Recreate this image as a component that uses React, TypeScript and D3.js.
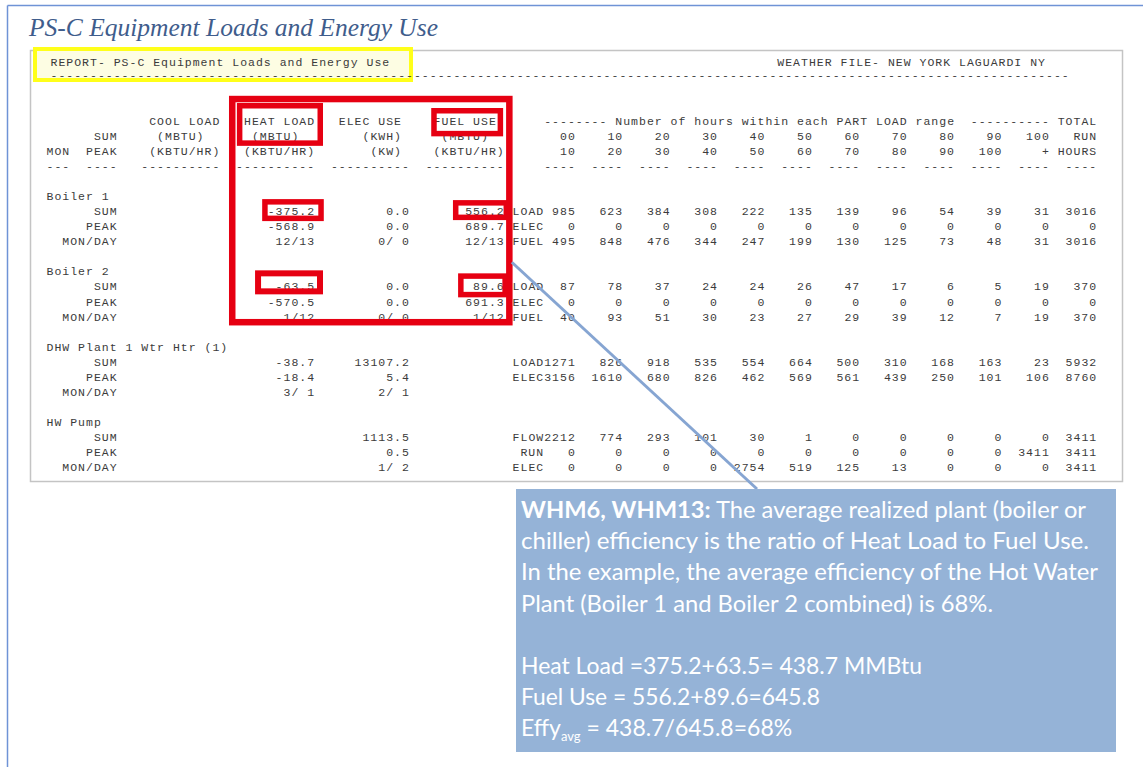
import React from "react";
import * as d3 from "d3";

// ---------------- data ----------------
const slideTitle = "PS-C Equipment Loads and Energy Use";
const reportName = "REPORT- PS-C Equipment Loads and Energy Use";
const weatherLine = "WEATHER FILE- NEW YORK LAGUARDI NY";

const columnTitles = ["COOL LOAD", "HEAT LOAD", "ELEC USE", "FUEL USE"];
const columnUnitsSum = ["(MBTU)", "(MBTU)", "(KWH)", "(MBTU)"];
const columnUnitsPeak = ["(KBTU/HR)", "(KBTU/HR)", "(KW)", "(KBTU/HR)"];
const partLoadHeading = "Number of hours within each PART LOAD range";
const binLow = ["00", "10", "20", "30", "40", "50", "60", "70", "80", "90", "100"];
const binHigh = ["10", "20", "30", "40", "50", "60", "70", "80", "90", "100", "+"];
const statLabels = ["SUM", "PEAK", "MON/DAY"];

const equipment = ["Boiler 1", "Boiler 2", "DHW Plant 1 Wtr Htr (1)", "HW Pump"];
const heatLoad = [
  ["-375.2", "-568.9", "12/13"],
  ["-63.5", "-570.5", "1/12"],
  ["-38.7", "-18.4", "3/ 1"],
  ["", "", ""],
];
const elecUse = [
  ["0.0", "0.0", "0/ 0"],
  ["0.0", "0.0", "0/ 0"],
  ["13107.2", "5.4", "2/ 1"],
  ["1113.5", "0.5", "1/ 2"],
];
const fuelUse = [
  ["556.2", "689.7", "12/13"],
  ["89.6", "691.3", "1/12"],
  ["", "", ""],
  ["", "", ""],
];
const hourRowLabels = [
  ["LOAD", "ELEC", "FUEL"],
  ["LOAD", "ELEC", "FUEL"],
  ["LOAD", "ELEC", ""],
  ["FLOW", "RUN", "ELEC"],
];
const boiler1Hours = [
  [985, 623, 384, 308, 222, 135, 139, 96, 54, 39, 31],
  [0, 0, 0, 0, 0, 0, 0, 0, 0, 0, 0],
  [495, 848, 476, 344, 247, 199, 130, 125, 73, 48, 31],
];
const boiler2Hours = [
  [87, 78, 37, 24, 24, 26, 47, 17, 6, 5, 19],
  [0, 0, 0, 0, 0, 0, 0, 0, 0, 0, 0],
  [40, 93, 51, 30, 23, 27, 29, 39, 12, 7, 19],
];
const dhwHours = [
  [1271, 826, 918, 535, 554, 664, 500, 310, 168, 163, 23],
  [3156, 1610, 680, 826, 462, 569, 561, 439, 250, 101, 106],
  [],
];
const hwPumpHours = [
  [2212, 774, 293, 101, 30, 1, 0, 0, 0, 0, 0],
  [0, 0, 0, 0, 0, 0, 0, 0, 0, 0, 3411],
  [0, 0, 0, 0, 2754, 519, 125, 13, 0, 0, 0],
];
const boiler1Totals = [3016, 0, 3016];
const boiler2Totals = [370, 0, 370];
const dhwTotals = [5932, 8760, null];
const hwPumpTotals = [3411, 3411, 3411];

const calloutBold = "WHM6, WHM13:";
const calloutText = [
  " The average realized plant (boiler or",
  "chiller) efficiency is the ratio of Heat Load to Fuel Use.",
  "In the example, the average efficiency of the Hot Water",
  "Plant (Boiler 1 and Boiler 2 combined) is 68%.",
];
const calcLines = ["Heat Load =375.2+63.5= 438.7 MMBtu", "Fuel Use = 556.2+89.6=645.8"];
const effyParts = ["Effy", "avg", " = 438.7/645.8=68%"];

// ---------------- layout ----------------
const W = 1143;
const H = 767;
const CW = 7.9;
const colX = d3.scaleLinear().domain([0, 1]).range([46.5, 46.5 + CW]);
const rowY = d3.scaleLinear().domain([0, 1]).range([120.8, 135.85]);
const repX = d3.scaleLinear().domain([0, 1]).range([50.5, 50.5 + CW]);

const MONO = "'Liberation Mono', 'DejaVu Sans Mono', monospace";
const TXT = "#3b3b3b";
const RED = "#e60012";

const hoursAll = [boiler1Hours, boiler2Hours, dhwHours, hwPumpHours];
const totalsAll = [boiler1Totals, boiler2Totals, dhwTotals, hwPumpTotals];

// callout line right edges (layout)
const proseEnds = [1086, 1089, 1098, 993];
const calcEnds = [922, 820];

function Mono({ x, y, anchor = "start", children }: any) {
  return (
    <text
      x={x}
      y={y}
      dy="0.36em"
      textAnchor={anchor}
      fontFamily={MONO}
      fontSize={11.5}
      letterSpacing={1.0}
      fill={TXT}
      style={{ whiteSpace: "pre" }}
    >
      {children}
    </text>
  );
}

function outerRect(x0: number, x1: number, y0: number, y1: number, sw: number, key: string) {
  return (
    <rect
      key={key}
      x={x0 + sw / 2}
      y={y0 + sw / 2}
      width={x1 - x0 - sw}
      height={y1 - y0 - sw}
      fill="none"
      stroke={RED}
      strokeWidth={sw}
    />
  );
}

export default function App() {
  const cells: any[] = [];
  let k = 0;
  const put = (x: number, y: number, s: string, anchor = "start") => {
    cells.push(
      <Mono key={k++} x={x} y={y} anchor={anchor}>
        {s}
      </Mono>
    );
  };

  // header rows
  const titleStart = [13, 25, 37, 49];
  const sumStart = [14, 26, 40, 50];
  const peakStart = [13, 25, 41, 49];
  put(colX(6), rowY(1), "SUM");
  put(colX(0), rowY(2), "MON");
  put(colX(5), rowY(2), "PEAK");
  columnTitles.forEach((t, j) => put(colX(titleStart[j]), rowY(0), t));
  columnUnitsSum.forEach((t, j) => put(colX(sumStart[j]), rowY(1), t));
  columnUnitsPeak.forEach((t, j) => put(colX(peakStart[j]), rowY(2), t));
  put(colX(63), rowY(0), "--------");
  put(colX(72), rowY(0), partLoadHeading);
  put(colX(117), rowY(0), "----------");
  put(colX(128), rowY(0), "TOTAL");
  binLow.forEach((b, i) => put(colX(67 + 6 * i), rowY(1), b, "end"));
  put(colX(133), rowY(1), "RUN", "end");
  binHigh.forEach((b, i) => put(colX(67 + 6 * i), rowY(2), b, "end"));
  put(colX(133), rowY(2), "HOURS", "end");
  // dash row
  put(colX(0), rowY(3), "---");
  put(colX(5), rowY(3), "----");
  [12, 24, 36, 48].forEach((c) => put(colX(c), rowY(3), "----------"));
  d3.range(12).forEach((i) => put(colX(67 + 6 * i), rowY(3), "----", "end"));

  // body
  equipment.forEach((name, e) => {
    const r0 = 5 + 5 * e;
    put(colX(0), rowY(r0), name);
    statLabels.forEach((s, si) => {
      const y = rowY(r0 + 1 + si);
      put(colX(9), y, s, "end");
      if (heatLoad[e][si]) put(colX(34), y, heatLoad[e][si], "end");
      if (elecUse[e][si]) put(colX(46), y, elecUse[e][si], "end");
      if (fuelUse[e][si]) put(colX(58), y, fuelUse[e][si], "end");
      const lab = hourRowLabels[e][si];
      if (lab) {
        put(colX(63), y, lab, "end");
        hoursAll[e][si].forEach((v: number, i: number) => put(colX(67 + 6 * i), y, String(v), "end"));
        put(colX(133), y, String(totalsAll[e][si]), "end");
      }
    });
  });

  const lineStart = [colX(58.9), rowY(9.4)];
  const lineEnd = [757, 489];
  const TX = 521;

  return (
    <svg
      width={W}
      height={H}
      viewBox={`0 0 ${W} ${H}`}
      style={{ position: "absolute", left: 0, top: 0, background: "#fff" }}
    >
      <rect x={0} y={0} width={W} height={H} fill="#ffffff" />
      {/* slide border */}
      <line x1={7.5} y1={5.5} x2={W} y2={5.5} stroke="#6f93d6" strokeWidth={1.5} />
      <line x1={7.5} y1={5.5} x2={7.5} y2={H} stroke="#6f93d6" strokeWidth={1.5} />

      {/* title */}
      <text
        x={29}
        y={36}
        fontFamily="'Liberation Serif', 'DejaVu Serif', serif"
        fontStyle="italic"
        fontSize={26}
        fill="#3f5d8c"
        textLength={409}
        lengthAdjust="spacingAndGlyphs"
      >
        {slideTitle}
      </text>

      {/* report frame */}
      <rect x={30.5} y={50.5} width={1092} height={431} fill="#fff" stroke="#c4c4c4" strokeWidth={1.5} />

      {/* yellow highlight */}
      <rect x={35} y={49} width={376} height={31} fill="#fdfde3" stroke="#ffff1a" strokeWidth={4} />

      <Mono x={repX(0)} y={61.5}>{reportName}</Mono>
      <Mono x={repX(92)} y={61.5}>{weatherLine}</Mono>
      <Mono x={repX(0)} y={75}>{"-".repeat(129)}</Mono>

      {cells}

      {/* red highlight boxes */}
      {outerRect(colX(23.1), colX(59), rowY(0) - 25, rowY(13) + 9, 6.5, "big")}
      {outerRect(colX(24.1), colX(35), rowY(0) - 17.8, rowY(1) + 10, 5.5, "hh")}
      {outerRect(colX(48.7), colX(57.8), rowY(0) - 12.8, rowY(1) + 0.5, 5.5, "fh")}
      {outerRect(colX(27.3), colX(35.1), rowY(6) - 12, rowY(6) + 10, 5.5, "h1")}
      {outerRect(colX(51.45), colX(58.55), rowY(6) - 11, rowY(6) + 9, 5.5, "f1")}
      {outerRect(colX(26.4), colX(35), rowY(11) - 16, rowY(11) + 8, 6, "h2")}
      {outerRect(colX(52.1), colX(58.4), rowY(11) - 13, rowY(11) + 11, 5.5, "f2")}

      {/* connector */}
      <line
        x1={lineStart[0]}
        y1={lineStart[1]}
        x2={lineEnd[0]}
        y2={lineEnd[1]}
        stroke="#86a5d2"
        strokeWidth={3}
      />

      {/* callout */}
      <rect x={516} y={489} width={600} height={263} fill="#95b3d7" />
      <g fontFamily="Lato, 'Noto Sans', sans-serif" fontSize={23} fill="#ffffff">
        <text x={TX} y={518} textLength={proseEnds[0] - TX} lengthAdjust="spacingAndGlyphs">
          <tspan fontWeight="bold">{calloutBold}</tspan>
          <tspan style={{ whiteSpace: "pre" }}>{calloutText[0]}</tspan>
        </text>
        {calloutText.slice(1).map((t, i) => (
          <text
            key={i}
            x={TX}
            y={518 + 31.2 * (i + 1)}
            textLength={proseEnds[i + 1] - TX}
            lengthAdjust="spacingAndGlyphs"
          >
            {t}
          </text>
        ))}
        {calcLines.map((t, i) => (
          <text
            key={"c" + i}
            x={TX}
            y={674 + 31.2 * i}
            textLength={calcEnds[i] - TX}
            lengthAdjust="spacingAndGlyphs"
          >
            {t}
          </text>
        ))}
        <text x={TX} y={736.4}>
          <tspan>{effyParts[0]}</tspan>
          <tspan fontSize={13} dy={5}>{effyParts[1]}</tspan>
          <tspan dy={-5} style={{ whiteSpace: "pre" }}>{effyParts[2]}</tspan>
        </text>
      </g>
    </svg>
  );
}
